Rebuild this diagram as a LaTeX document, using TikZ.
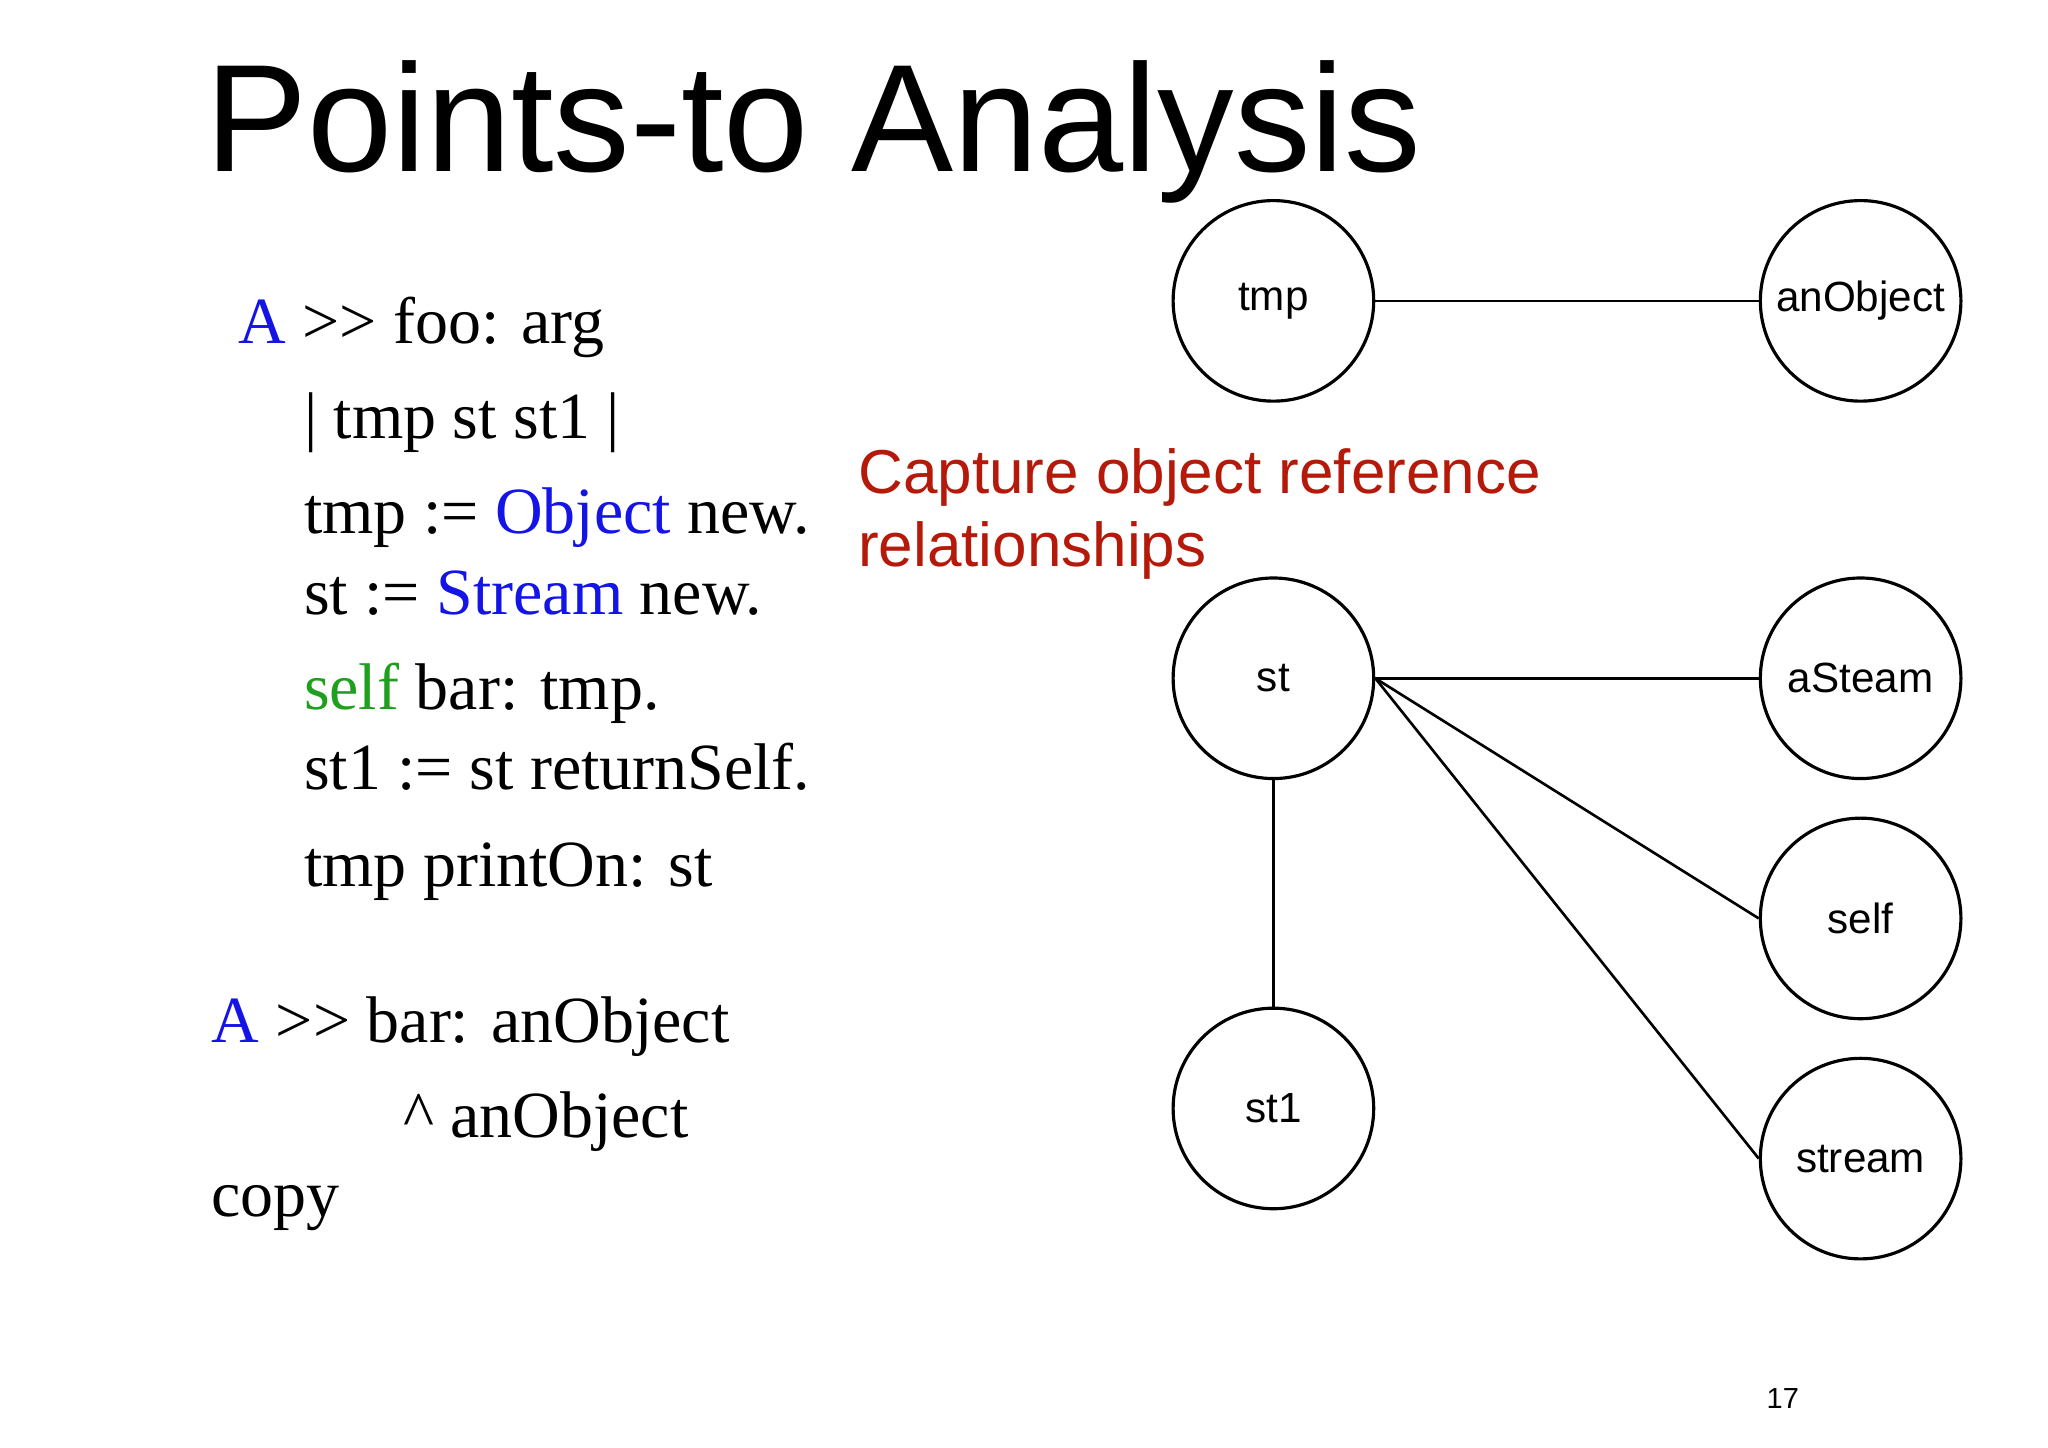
\documentclass[tikz,border=0pt]{standalone}
\usepackage{fontspec}
\setmainfont{Liberation Serif}
\newfontfamily\sansf{Liberation Sans}
\definecolor{kw}{RGB}{20,20,230}
\definecolor{gr}{RGB}{30,160,30}
\definecolor{rd}{RGB}{180,25,10}
\begin{document}
\begin{tikzpicture}[x=0.5pt,y=-0.5pt,
  obj/.style={draw,circle,line width=1.2pt,minimum size=76pt,inner sep=0pt,font=\sansf\fontsize{16}{18}\selectfont},
  code/.style={anchor=base west,inner sep=0pt,font=\fontsize{25}{30}\selectfont},
  edge/.style={line width=1pt}]
\useasboundingbox (0,0) rectangle (1552,1097);
\node[anchor=base west,inner sep=0pt,font=\sansf\fontsize{58}{64}\selectfont] (title) at (155,130) {Points-to Analysis};
\node[code] (c1) at (180,260) {\textcolor{kw}{A} {>}{>} foo: arg};
\node[code] (c2) at (230,332) {| tmp st st1 |};
\node[code] (c3) at (230,404) {tmp := \textcolor{kw}{Object} new.};
\node[code] (c4) at (230,466) {st := \textcolor{kw}{Stream} new.};
\node[code] (c5) at (230,538) {\textcolor{gr}{self} bar: tmp.};
\node[code] (c6) at (230,598) {st1 := st returnSelf.};
\node[code] (c7) at (230,672) {tmp printOn: st};
\node[code] (c8) at (160,790) {\textcolor{kw}{A} {>}{>} bar: anObject};
\node[code] (c9) at (305,862) {\^{} anObject};
\node[code] (c10) at (160,922) {copy};
\node[anchor=base west,inner sep=0pt,text=rd,font=\sansf\fontsize{23.5}{28}\selectfont] (r1) at (650,374) {Capture object reference};
\node[anchor=base west,inner sep=0pt,text=rd,font=\sansf\fontsize{23.5}{28}\selectfont] (r2) at (650,429) {relationships};
\node[obj] (tmp) at (965,228) {tmp};
\node[obj] (anObject) at (1410,228) {anObject};
\node[obj] (st) at (965,514) {st};
\node[obj] (aSteam) at (1410,514) {aSteam};
\node[obj] (self) at (1410,696) {self};
\node[obj] (stream) at (1410,878) {stream};
\node[obj] (st1) at (965,840) {st1};
\draw[edge] (tmp) -- (anObject);
\draw[edge] (st) -- (aSteam);
\draw[edge] (st.east) -- (self.west);
\draw[edge] (st.east) -- (stream.west);
\draw[edge] (st) -- (st1);
\node[anchor=base,inner sep=0pt,font=\sansf\fontsize{11}{13}\selectfont] (pg) at (1351,1067) {17};
\end{tikzpicture}
\end{document}
